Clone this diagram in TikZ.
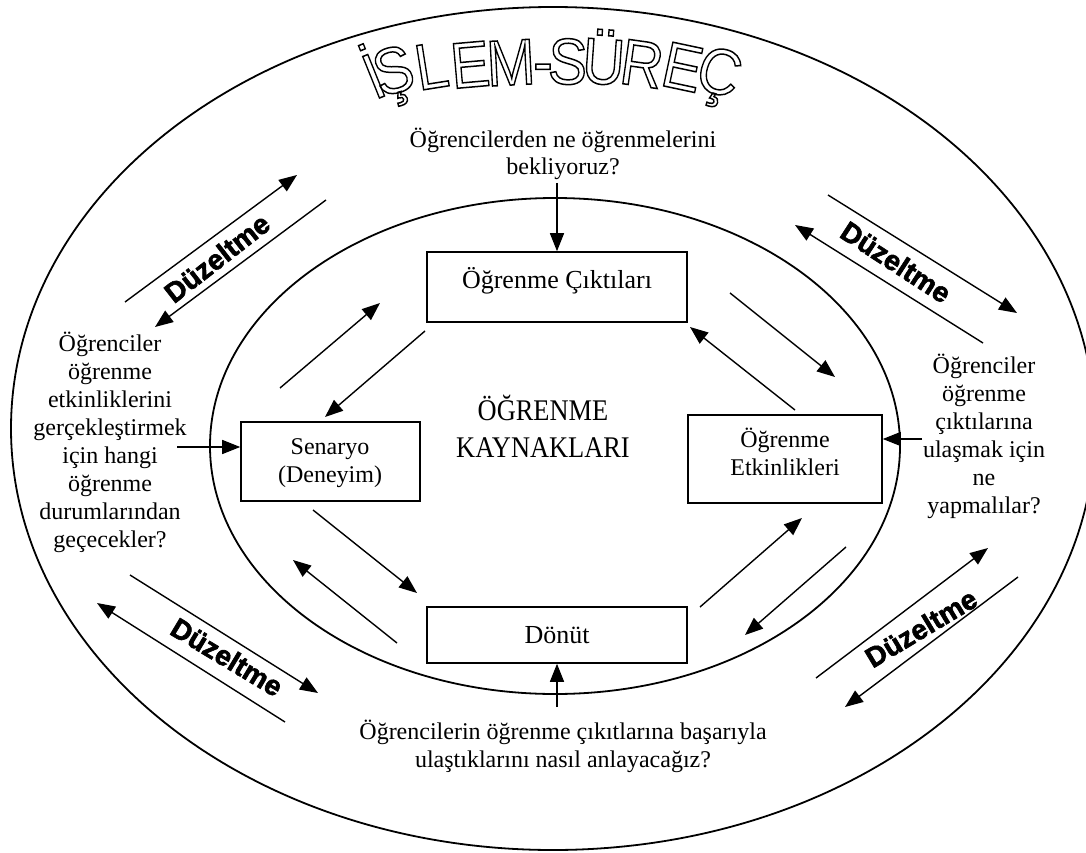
\documentclass[tikz,border=0pt]{standalone}
\usepackage{fontspec}
\setmainfont{Liberation Serif}
\newfontfamily\arialf{Liberation Sans}
\usetikzlibrary{arrows.meta}
\newcommand{\outlinechar}[1]{\special{pdf:literal direct 1 Tr 1.5 w}#1\special{pdf:literal direct 0 Tr}}
\newcommand{\heavytext}[1]{\special{pdf:literal direct 2 Tr 0.6 w}#1\special{pdf:literal direct 0 Tr}}
\begin{document}
\begin{tikzpicture}[x=1pt,y=-1pt,
  ell/.style={line width=1.8pt},
  arr/.style={line width=1.4pt,-{Triangle[length=18pt,width=14pt]}},
  box/.style={draw,line width=1.6pt,inner sep=0pt},
  txt/.style={font=\fontsize{24}{27.9}\selectfont,align=center,inner sep=0pt},
  lbl/.style={font=\fontsize{26}{30}\selectfont,align=center,inner sep=0pt},
  big/.style={font=\fontsize{30}{37}\selectfont,align=center,inner sep=0pt},
  dz/.style={font=\arialf\bfseries\fontsize{28}{32}\selectfont,inner sep=0pt},
  ttl/.style={font=\arialf\fontsize{65}{70}\selectfont,anchor=base,inner sep=0pt},
]
\useasboundingbox (0,0) rectangle (1086,853);
\clip (0,0) rectangle (1086,853);
\fill[white] (0,0) rectangle (1086,853);

% ellipses
\draw[ell] (553,428.5) ellipse [x radius=542pt, y radius=421.5pt];
\draw[ell] (555,446) ellipse [x radius=345pt, y radius=248pt];

% title
\foreach \ch/\xx/\yy/\rr [count=\i] in {İ/382/97/22, Ş/399/92/15, L/435/88/9, E/472/87/5, M/512/85/3, -/543/84/0, S/567/84/-2, Ü/602/84/-4, R/639/86/-8, E/678/89/-12, Ç/713/93/-17}
  \node[ttl,rotate=\rr] (t\i) at (\xx,\yy) {\scalebox{0.9}[1]{\outlinechar{\ch}}};

% boxes
\node[box,minimum width=260pt,minimum height=70pt] (cikti) at (557,287) {};
\node[lbl,anchor=base] (ciktit) at (557,288) {Öğrenme Çıktıları};
\node[box,minimum width=179pt,minimum height=79pt] (senaryo) at (330.5,461.5) {};
\node[txt,anchor=base] (senaryot) at (330,482) {Senaryo\\(Deneyim)};
\node[box,minimum width=194pt,minimum height=88pt] (etkin) at (785,459) {};
\node[txt,anchor=base] (etkint) at (785,475) {Öğrenme\\Etkinlikleri};
\node[box,minimum width=260pt,minimum height=56pt] (donut) at (557,635) {};
\node[lbl,anchor=base] (donutt) at (557,643) {Dönüt};

% centre
\node[big,anchor=base] (kay) at (543,457) {\scalebox{0.88}[1]{ÖĞRENME}\\\scalebox{0.88}[1]{KAYNAKLARI}};

% questions
\node[txt,anchor=base] (q1) at (563,175) {Öğrencilerden ne öğrenmelerini\\bekliyoruz?};
\node[txt,anchor=base] (q2) at (110,547) {Öğrenciler\\öğrenme\\etkinliklerini\\gerçekleştirmek\\için hangi\\öğrenme\\durumlarından\\geçecekler?};
\node[txt,anchor=base] (q3) at (984,513) {Öğrenciler\\öğrenme\\çıktılarına\\ulaşmak için\\ne\\yapmalılar?};
\node[txt,anchor=base] (q4) at (563,767) {Öğrencilerin öğrenme çıkıtlarına başarıyla\\ulaştıklarını nasıl anlayacağız?};

\coordinate (q1a) at (557,183);
\coordinate (q2a) at (177,447);
\coordinate (q3a) at (922,439);
\coordinate (q4a) at (557,707);
\draw[arr] (q1a) -- (q1a |- cikti.north);
\draw[arr] (q2a) -- (q2a -| senaryo.west);
\draw[arr] (q3a) -- (q3a -| etkin.east);
\draw[arr] (q4a) -- (q4a |- donut.south);

% inner arrows
\coordinate (ul1a) at (280,388); \coordinate (ul1b) at (380,303);
\coordinate (ul2a) at (425,331); \coordinate (ul2b) at (325,417);
\coordinate (ur1a) at (730,293); \coordinate (ur1b) at (835,377);
\coordinate (ur2a) at (795,410); \coordinate (ur2b) at (690,327);
\coordinate (ll1a) at (313,510); \coordinate (ll1b) at (417,593);
\coordinate (ll2a) at (397,643); \coordinate (ll2b) at (293,560);
\coordinate (lr1a) at (700,607); \coordinate (lr1b) at (802,518);
\coordinate (lr2a) at (846,547); \coordinate (lr2b) at (745,635);
\foreach \p in {ul1,ul2,ur1,ur2,ll1,ll2,lr1,lr2}
  \draw[arr] (\p a) -- (\p b);

% correction arrows
\coordinate (tl1a) at (125,302); \coordinate (tl1b) at (297,175);
\coordinate (tl2a) at (326,200); \coordinate (tl2b) at (155,327);
\coordinate (tr1a) at (828,195); \coordinate (tr1b) at (1017,313);
\coordinate (tr2a) at (983,343); \coordinate (tr2b) at (795,225);
\coordinate (bl1a) at (130,575); \coordinate (bl1b) at (318,693);
\coordinate (bl2a) at (285,722); \coordinate (bl2b) at (97,603);
\coordinate (br1a) at (816,678); \coordinate (br1b) at (988,548);
\coordinate (br2a) at (1018,577); \coordinate (br2b) at (845,707);
\foreach \p in {tl1,tl2,tr1,tr2,bl1,bl2,br1,br2}
  \draw[arr] (\p a) -- (\p b);

\node[dz,rotate=38] (dz1) at (217,258) {\heavytext{Düzeltme}};
\node[dz,rotate=-33] (dz2) at (896,262) {\heavytext{Düzeltme}};
\node[dz,rotate=-31] (dz3) at (227,657) {\heavytext{Düzeltme}};
\node[dz,rotate=31] (dz4) at (921,628) {\heavytext{Düzeltme}};
\end{tikzpicture}
\end{document}
